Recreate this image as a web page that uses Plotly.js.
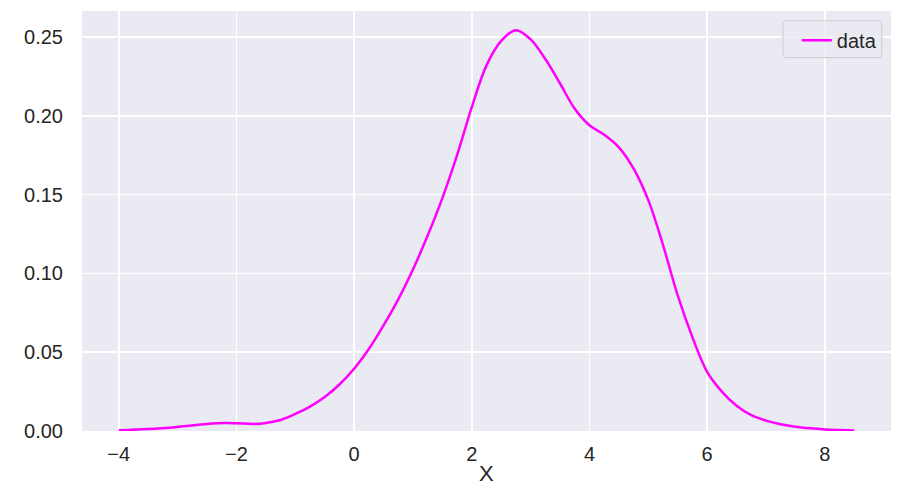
<!DOCTYPE html>
<html>
<head>
<meta charset="utf-8">
<script src="https://cdn.plot.ly/plotly-3.0.1.min.js"></script>
<style>html,body{margin:0;padding:0;background:#fff;}#chart{width:908px;height:489px;}</style>
</head>
<body>
<div id="chart"></div>
<script>
const seriesName = "data";
const xValues = [-4.0,-3.5,-3.0,-2.5,-2.2,-2.0,-1.7,-1.5,-1.25,-1.0,-0.75,-0.5,-0.25,0.0,0.25,0.5,0.75,1.0,1.25,1.5,1.75,2.0,2.25,2.5,2.75,3.0,3.25,3.5,3.75,4.0,4.25,4.5,4.75,5.0,5.25,5.5,5.75,6.0,6.25,6.5,6.75,7.0,7.25,7.5,7.75,8.0,8.25,8.5];
const density = [0.0004,0.0012,0.0026,0.0044,0.0050,0.0049,0.0045,0.0051,0.0070,0.0108,0.0155,0.0215,0.0295,0.0395,0.0520,0.0670,0.0835,0.1025,0.1240,0.1478,0.1750,0.2055,0.2320,0.2475,0.2543,0.2485,0.2360,0.2205,0.2045,0.1940,0.1880,0.1800,0.1665,0.1465,0.1180,0.0860,0.0595,0.0375,0.0250,0.0160,0.0100,0.0066,0.0043,0.0027,0.0017,0.0010,0.0006,0.0003];
const xTicks = [-4,-2,0,2,4,6,8];
const xTickText = ["\u22124","\u22122","0","2","4","6","8"];
const yTicks = [0,0.05,0.10,0.15,0.20,0.25];
const yTickText = ["0.00","0.05","0.10","0.15","0.20","0.25"];
const xTitle = "X";

const font = {family: "Liberation Sans, Arial, sans-serif", size: 20, color: "#262626"};

const trace = {
  x: xValues, y: density, type: "scatter", mode: "lines", name: seriesName,
  line: {color: "#FF00FF", width: 2.5, shape: "spline", smoothing: 1}
};

const layout = {
  width: 908, height: 489,
  margin: {l: 82, r: 17, t: 11, b: 58, pad: 0},
  paper_bgcolor: "#ffffff", plot_bgcolor: "#EAEAF2",
  font: font,
  showlegend: true,
  legend: {x: 0.9887, xanchor: "right", y: 0.977, yanchor: "top",
    bgcolor: "rgba(0,0,0,0)", borderwidth: 0, font: {family: font.family, size: 20, color: "#262626"}},
  xaxis: {range: [-4.625, 9.125], tickvals: xTicks, ticktext: xTickText,
    showgrid: true, gridcolor: "#ffffff", gridwidth: 1.6, zeroline: false, showline: false,
    ticks: "outside", ticklen: 5, tickcolor: "rgba(0,0,0,0)"},
  yaxis: {range: [0, 0.2665], tickvals: yTicks, ticktext: yTickText,
    showgrid: true, gridcolor: "#ffffff", gridwidth: 1.6, zeroline: false, showline: false,
    ticks: "outside", ticklen: 14, tickcolor: "rgba(0,0,0,0)"},
  annotations: [{text: xTitle, xref: "paper", yref: "paper", x: 0.5, y: -0.1365,
    xanchor: "center", yanchor: "bottom", showarrow: false,
    font: {family: font.family, size: 22, color: "#262626"}}],
  shapes: [{type: "path", xref: "paper", yref: "paper", layer: "above",
    path: "M 0.8706 0.977 L 0.9845 0.977 Q 0.9887 0.977 0.9887 0.9665 L 0.9887 0.8995 Q 0.9887 0.889 0.9845 0.889 L 0.8706 0.889 Q 0.8664 0.889 0.8664 0.8995 L 0.8664 0.9665 Q 0.8664 0.977 0.8706 0.977 Z",
    line: {color: "#CCCCCC", width: 1}, fillcolor: "rgba(234,234,242,0.8)"}]
};

Plotly.newPlot("chart", [trace], layout, {staticPlot: true, displayModeBar: false});
</script>
</body>
</html>
